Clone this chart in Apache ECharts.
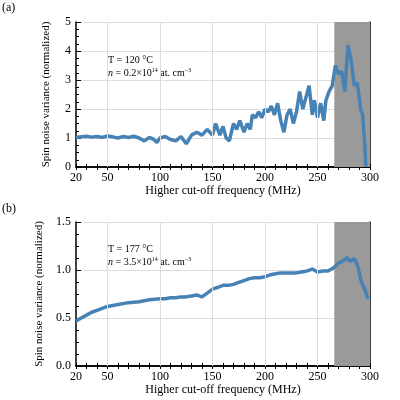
<!DOCTYPE html>
<html>
<head>
<meta charset="utf-8">
<script src="https://cdn.jsdelivr.net/npm/echarts@6/dist/echarts.min.js"></script>
<style>body{margin:0}#main{width:400px;height:400px}</style>
</head>
<body>
<div id="main"></div>
<script>
// (a) T = 120 C
var freqA = [20,25,30,35,40,45,50,55,60,65,70,75,80,85,90,94,97,100,105,110,115,120,125,130,135,140,145,150,153,157,160,163,166,170,173,176,180,183,186,188,191,194,197,200,203,206,209,212,215,218,221,224,227,230,233,236,239,242,245,247,250,253,256,258,261,264,267,270,273,276,279,282,285,288,291,293,295,296];
var varA  = [1.02,1.04,1.06,1.03,1.05,1.02,1.07,1.04,1.0,1.05,1.02,1.06,1.0,0.9,1.02,0.95,0.85,1.0,1.05,0.95,0.9,1.05,0.8,1.1,1.2,1.1,1.3,1.1,1.5,1.1,1.4,1.0,0.9,1.5,1.3,1.6,1.2,1.5,1.3,1.8,1.7,1.9,1.7,2.0,1.9,2.1,1.8,2.2,1.6,1.2,1.8,2.0,1.5,1.9,2.6,2.0,2.4,2.8,1.8,2.3,1.7,2.2,1.6,2.3,2.6,2.8,3.5,3.2,3.3,2.6,4.2,3.7,2.8,2.9,2.0,1.8,0.8,0];
// (b) T = 177 C
var freqB = [20,25,30,35,40,45,50,55,60,65,70,75,80,85,90,95,100,105,110,115,120,125,130,135,140,145,150,155,160,165,170,175,180,185,190,195,200,205,210,215,220,225,230,235,240,245,250,255,260,265,270,275,278,281,285,288,292,295,298];
var varB  = [0.47,0.5,0.53,0.56,0.58,0.6,0.62,0.63,0.64,0.65,0.66,0.665,0.67,0.68,0.69,0.695,0.7,0.7,0.71,0.71,0.72,0.72,0.73,0.74,0.72,0.76,0.8,0.82,0.84,0.84,0.85,0.87,0.89,0.91,0.92,0.92,0.93,0.95,0.96,0.97,0.97,0.97,0.97,0.98,0.99,1.01,0.98,0.99,0.99,1.02,1.07,1.1,1.13,1.09,1.12,1.05,0.87,0.8,0.7];
var xLabels = [20,50,100,150,200,250,300];
var xTicks = [20,30,40,50,60,70,80,90,100,110,120,130,140,150,160,170,180,190,200,210,220,230,240,250,260,270,280,290,300];
var xGrid = [50,100,150,200,250];
var shade = [266,300];

var font = 'Liberation Serif';
function pairs(x,y){return x.map(function(v,i){return [v,y[i]];});}
function xAx(gi, top){
  return {type:'value',gridIndex:gi,min:20,max:300,position:top?'top':'bottom',
    name: top?'':'Higher cut-off frequency (MHz)',nameLocation:'middle',nameGap:17,
    nameTextStyle:{fontFamily:font,fontSize:12,color:'#000'},
    axisLine:{lineStyle:{color:'#000',width:1.5}},
    axisTick:{inside:true,length:3,customValues:xTicks,lineStyle:{color:'#000'}},
    axisLabel:{show:!top,customValues:xLabels,fontFamily:font,fontSize:12,color:'#000',margin:5},
    splitLine:{show:false}};
}
function yAx(gi, right, max, itv, fmt){
  return {type:'value',gridIndex:gi,min:0,max:max,interval:itv,position:right?'right':'left',
    name: right?'':'Spin noise variance (normalized)',nameLocation:'middle',nameGap:right?0:24,
    nameTextStyle:{fontFamily:font,fontSize:11,color:'#000'},
    axisLine:{show:true,lineStyle:{color:'#000',width:1.5}},
    axisTick:{inside:true,length:5,lineStyle:{color:'#000'}},
    minorTick:{show:true,splitNumber:4,length:3,lineStyle:{color:'#000'}},
    axisLabel:{show:!right,fontFamily:font,fontSize:12,color:'#000',margin:5,
      formatter:function(v){return fmt?v.toFixed(1):v;}},
    splitLine:{show:!right,lineStyle:{color:'#ddd'}}};
}
function ser(gi, data){
  return {type:'line',xAxisIndex:gi*2,yAxisIndex:gi*2,data:data,showSymbol:false,smooth:false,
    lineStyle:{color:'#4682b4',width:3.5},
    markArea:{silent:true,itemStyle:{color:'#9a9a9a'},data:[[{xAxis:shade[0]},{xAxis:shade[1]}]]},
    markLine:{silent:true,symbol:'none',label:{show:false},lineStyle:{color:'#ddd',type:'solid',width:1},
      data:xGrid.map(function(v){return {xAxis:v};})},
    z:3};
}
var rich = {i:{fontStyle:'italic',fontFamily:font,fontSize:10},
            s:{fontFamily:font,fontSize:6,verticalAlign:'top',padding:[0,0,6,0]}};
var chart = echarts.init(document.getElementById('main'));
chart.setOption({
  animation:false,
  grid:[{left:76,right:30,top:22,height:145},{left:76,right:30,top:222,height:144}],
  xAxis:[xAx(0,false),xAx(0,true),xAx(1,false),xAx(1,true)],
  yAxis:[yAx(0,false,5,1,false),yAx(0,true,5,1,false),yAx(1,false,1.5,0.5,true),yAx(1,true,1.5,0.5,true)],
  series:[ser(0,pairs(freqA,varA)),ser(1,pairs(freqB,varB))],
  graphic:[
    {type:'text',left:2,top:2,style:{text:'(a)',font:'12px '+font,fill:'#000'}},
    {type:'text',left:2,top:203,style:{text:'(b)',font:'12px '+font,fill:'#000'}},
    {type:'text',left:108,top:54,style:{text:'T = 120 °C\n{i|n} = 0.2×10{s|14} at. cm{s|−3}',rich:rich,font:'10px '+font,fill:'#000',lineHeight:13}},
    {type:'text',left:108,top:243,style:{text:'T = 177 °C\n{i|n} = 3.5×10{s|14} at. cm{s|−3}',rich:rich,font:'10px '+font,fill:'#000',lineHeight:13}}
  ]
});
</script>
</body>
</html>
